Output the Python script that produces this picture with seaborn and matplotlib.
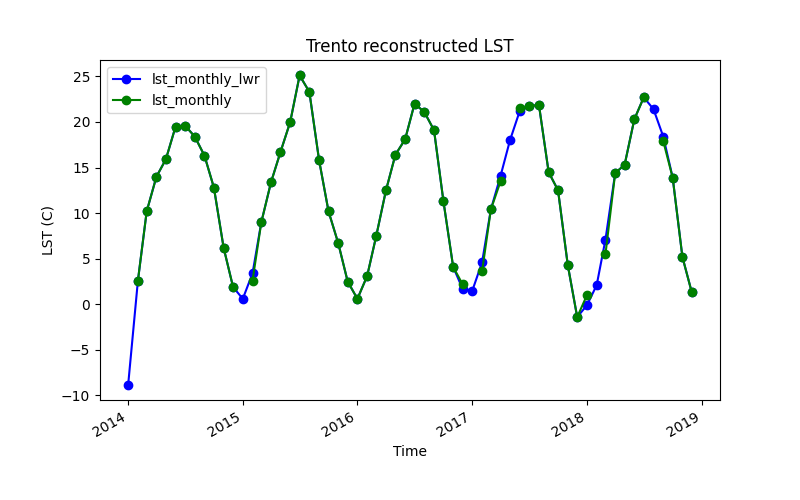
import matplotlib
matplotlib.use("Agg")
import matplotlib.pyplot as plt
import seaborn as sns
import pandas as pd
import numpy as np

months = pd.date_range("2014-01-01", "2018-12-01", freq="MS")

lst_monthly_lwr = [
    -8.8, 2.6, 10.2, 14.0, 15.9, 19.5, 19.6, 18.4, 16.3, 12.8, 6.2, 1.9,
    0.6, 3.4, 9.0, 13.4, 16.7, 20.0, 25.1, 23.3, 15.8, 10.2, 6.7, 2.5,
    0.6, 3.1, 7.5, 12.5, 16.4, 18.1, 22.0, 21.1, 19.1, 11.3, 4.1, 1.7,
    1.5, 4.6, 10.4, 14.1, 18.0, 21.2, 21.7, 21.9, 14.5, 12.5, 4.3, -1.4,
    -0.1, 2.1, 7.1, 14.4, 15.3, 20.3, 22.7, 21.4, 18.4, 13.9, 5.2, 1.3,
]

lst_monthly = [
    None, 2.6, 10.2, 14.0, 15.9, 19.5, 19.6, 18.4, 16.3, 12.8, 6.2, 1.9,
    None, 2.6, 9.0, 13.4, 16.7, 20.0, 25.1, 23.3, 15.8, 10.2, 6.7, 2.5,
    0.6, 3.1, 7.5, 12.5, 16.4, 18.1, 22.0, 21.1, 19.1, 11.3, 4.1, 2.2,
    None, 3.6, 10.4, 13.5, None, 21.5, 21.7, 21.9, 14.5, 12.5, 4.3, -1.4,
    1.0, None, 5.5, 14.4, 15.3, 20.3, 22.7, None, 17.9, 13.9, 5.2, 1.3,
]

df_lwr = pd.DataFrame({"Time": months, "LST": lst_monthly_lwr})
df_m = pd.DataFrame({"Time": months, "LST": np.array(lst_monthly, dtype=float)})
# segment id increments at each missing value so the line breaks there
df_m["seg"] = df_m["LST"].isna().cumsum()
df_m = df_m.dropna()

fig, ax = plt.subplots(figsize=(8, 5), dpi=100)
sns.lineplot(data=df_lwr, x="Time", y="LST", ax=ax, color="blue", marker="o",
             markersize=6, markeredgecolor="blue", markeredgewidth=1,
             linewidth=1.5, estimator=None, label="lst_monthly_lwr")
first = True
for _, seg in df_m.groupby("seg"):
    sns.lineplot(data=seg, x="Time", y="LST", ax=ax, color="green", marker="o",
                 markersize=6, markeredgecolor="green", markeredgewidth=1,
                 linewidth=1.5, estimator=None,
                 label="lst_monthly" if first else None)
    first = False

ax.set_title("Trento reconstructed LST")
ax.set_xlabel("Time")
ax.set_ylabel("LST (C)")
ax.legend(loc="upper left")
fig.autofmt_xdate()
fig.savefig("out.png", dpi=100)
